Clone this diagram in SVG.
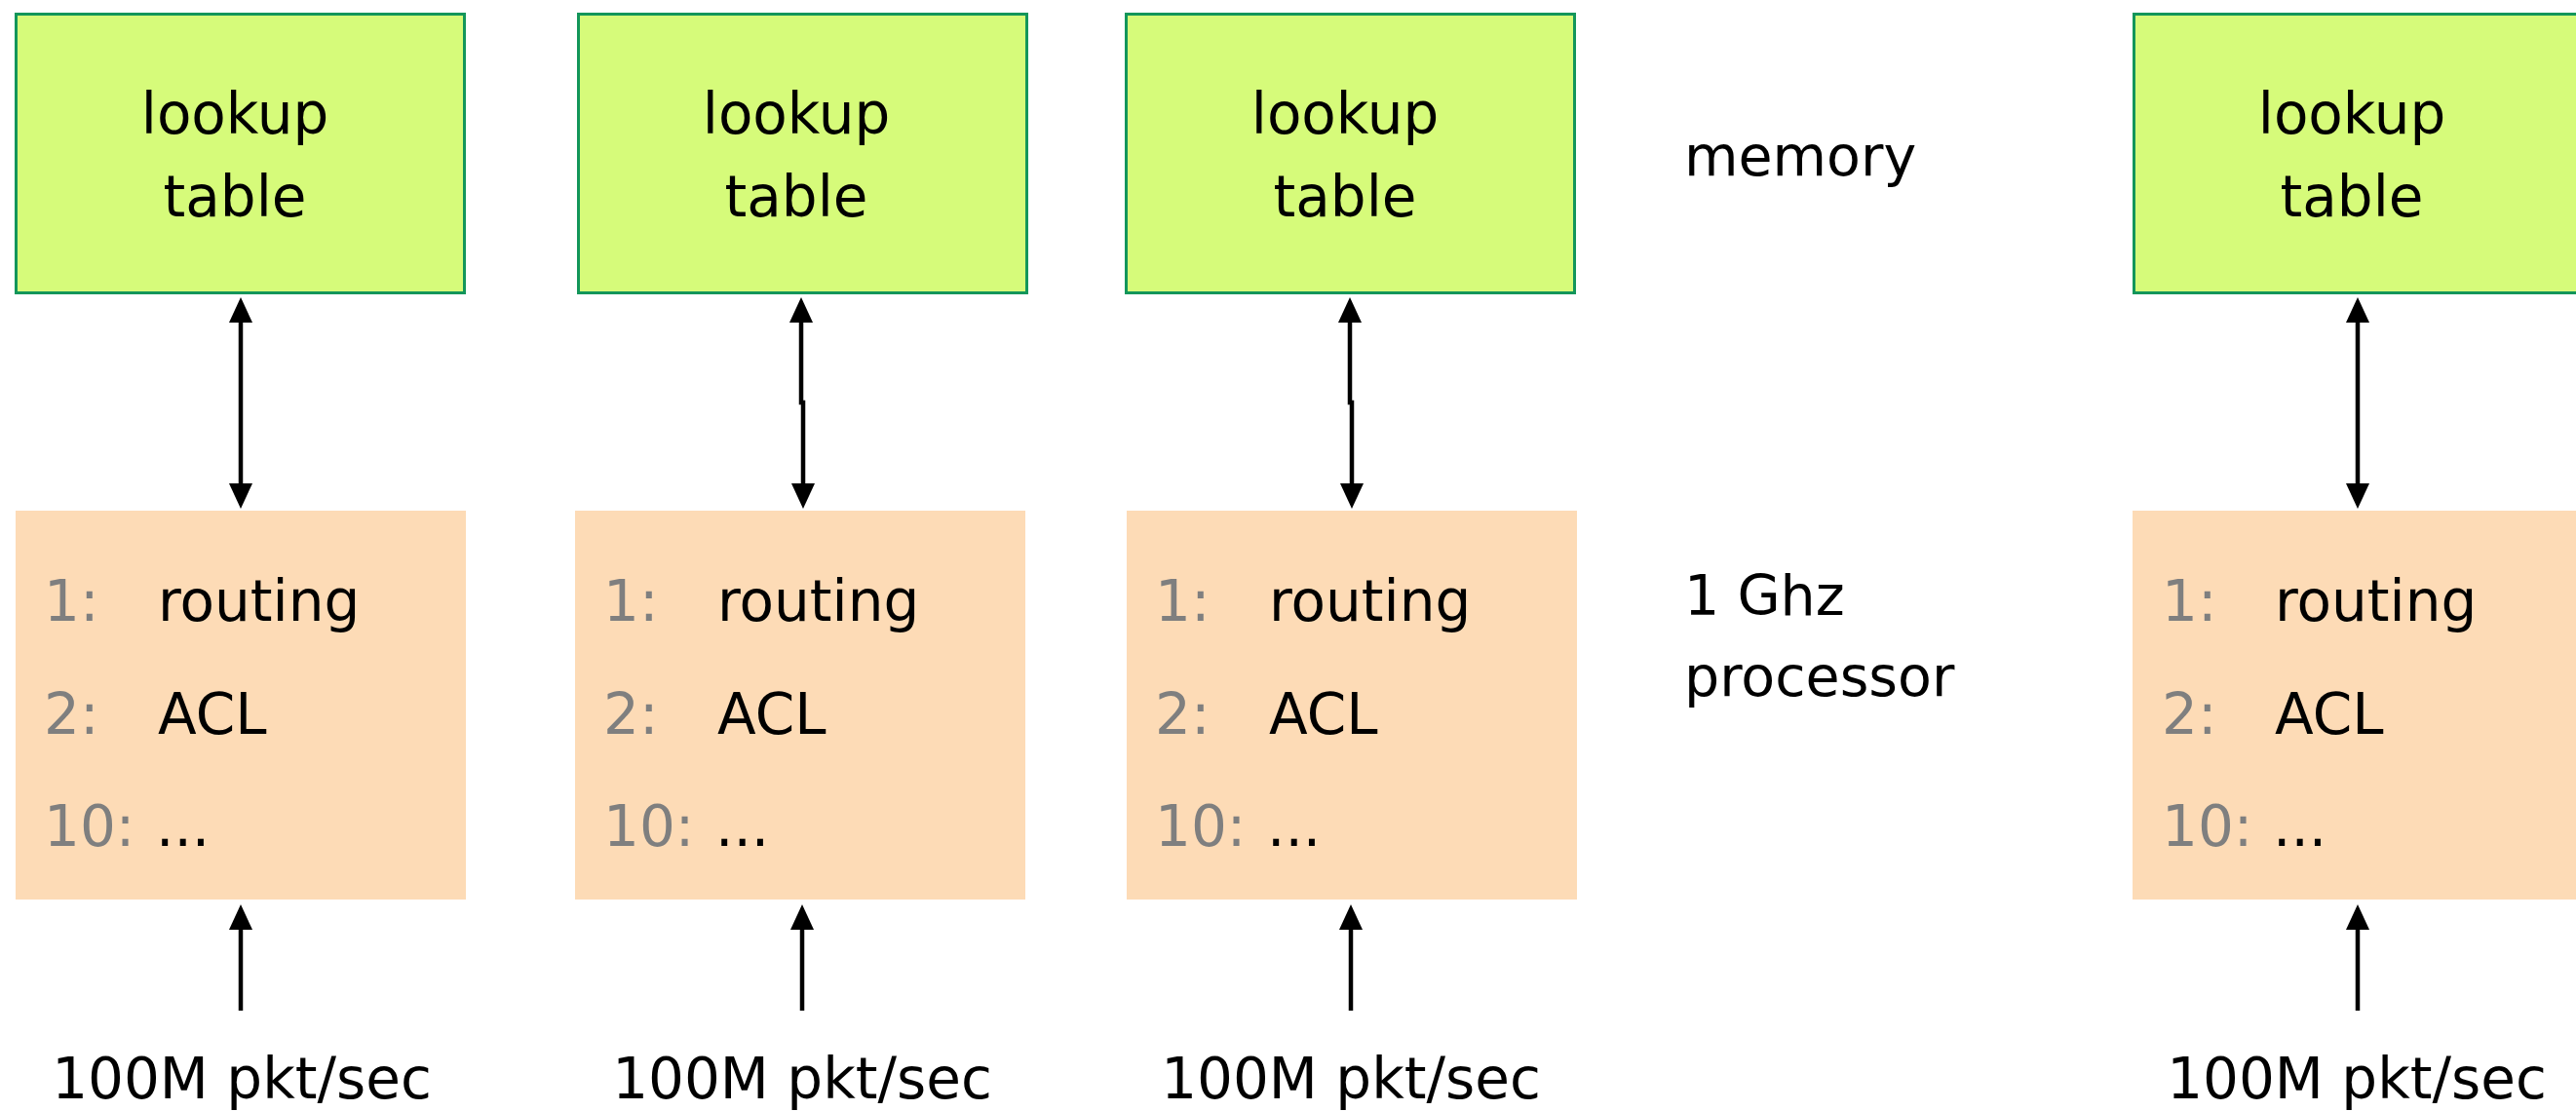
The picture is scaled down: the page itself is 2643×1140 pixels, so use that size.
<svg xmlns="http://www.w3.org/2000/svg" width="2643" height="1140" viewBox="0 0 2643 1140">
  <style>
    text { font-family: "DejaVu Sans", "Noto Sans", sans-serif; font-size: 58px; fill: #000; }
    .cap { font-size: 57px; }
    .mem { fill: #d6fb7a; stroke: #13965a; stroke-width: 3; }
    .cpu { fill: #fddbb6; stroke: none; }
    .mid { text-anchor: middle; }
    .num { fill: #7f7f7f; }
    .wire { fill: none; stroke: #000; stroke-width: 4.5; }
  </style>
  <defs>
    <marker id="head" viewBox="0 0 26 24" refX="16" refY="12" markerWidth="26" markerHeight="24" markerUnits="userSpaceOnUse" orient="auto-start-reverse">
      <path d="M0,0 L26,12 L0,24 Z" fill="#000"/>
    </marker>
  </defs>

  <rect width="2643" height="1140" fill="#fff"/>

  <!-- column 1 -->
  <g id="table1">
    <rect class="mem" x="16.5" y="14.5" width="460" height="286"/>
    <text class="mid" x="241" y="137">lookup</text>
    <text class="mid" x="241" y="222">table</text>
  </g>
  <g id="cpu1">
    <rect class="cpu" x="16" y="524" width="462" height="399"/>
    <text class="num" x="45" y="637">1:</text><text x="162" y="637">routing</text>
    <text class="num" x="45" y="753">2:</text><text x="162" y="753">ACL</text>
    <text class="num" x="45" y="868">10:</text><text x="160" y="868">...</text>
  </g>
  <g id="in1"><text class="mid" x="248" y="1127">100M pkt/sec</text></g>

  <!-- column 2 -->
  <g id="table2">
    <rect class="mem" x="593.5" y="14.5" width="460" height="286"/>
    <text class="mid" x="817" y="137">lookup</text>
    <text class="mid" x="817" y="222">table</text>
  </g>
  <g id="cpu2">
    <rect class="cpu" x="590" y="524" width="462" height="399"/>
    <text class="num" x="619" y="637">1:</text><text x="736" y="637">routing</text>
    <text class="num" x="619" y="753">2:</text><text x="736" y="753">ACL</text>
    <text class="num" x="619" y="868">10:</text><text x="734" y="868">...</text>
  </g>
  <g id="in2"><text class="mid" x="823" y="1127">100M pkt/sec</text></g>

  <!-- column 3 -->
  <g id="table3">
    <rect class="mem" x="1155.5" y="14.5" width="460" height="286"/>
    <text class="mid" x="1380" y="137">lookup</text>
    <text class="mid" x="1380" y="222">table</text>
  </g>
  <g id="cpu3">
    <rect class="cpu" x="1156" y="524" width="462" height="399"/>
    <text class="num" x="1185" y="637">1:</text><text x="1302" y="637">routing</text>
    <text class="num" x="1185" y="753">2:</text><text x="1302" y="753">ACL</text>
    <text class="num" x="1185" y="868">10:</text><text x="1300" y="868">...</text>
  </g>
  <g id="in3"><text class="mid" x="1386" y="1127">100M pkt/sec</text></g>

  <!-- row captions -->
  <g id="memory-label"><text class="cap" x="1728" y="180">memory</text></g>
  <g id="processor-label">
    <text class="cap" x="1728" y="631">1 Ghz</text>
    <text class="cap" x="1728" y="714">processor</text>
  </g>

  <!-- column 4 (runs past the right edge) -->
  <g id="table4">
    <rect class="mem" x="2189.5" y="14.5" width="460" height="286"/>
    <text class="mid" x="2413" y="137">lookup</text>
    <text class="mid" x="2413" y="222">table</text>
  </g>
  <g id="cpu4">
    <rect class="cpu" x="2188" y="524" width="462" height="399"/>
    <text class="num" x="2218" y="637">1:</text><text x="2334" y="637">routing</text>
    <text class="num" x="2218" y="753">2:</text><text x="2334" y="753">ACL</text>
    <text class="num" x="2218" y="868">10:</text><text x="2332" y="868">...</text>
  </g>
  <g id="in4"><text class="mid" x="2418" y="1127">100M pkt/sec</text></g>

  <!-- connectors -->
  <g id="connectors">
    <path class="wire" d="M247,315 V512" marker-start="url(#head)" marker-end="url(#head)"/>
    <path class="wire" d="M822,315 V413 H824 V512" marker-start="url(#head)" marker-end="url(#head)"/>
    <path class="wire" d="M1385,315 V413 H1387 V512" marker-start="url(#head)" marker-end="url(#head)"/>
    <path class="wire" d="M2419,315 V512" marker-start="url(#head)" marker-end="url(#head)"/>
    <path class="wire" d="M247,1037 V938" marker-end="url(#head)"/>
    <path class="wire" d="M823,1037 V938" marker-end="url(#head)"/>
    <path class="wire" d="M1386,1037 V938" marker-end="url(#head)"/>
    <path class="wire" d="M2419,1037 V938" marker-end="url(#head)"/>
  </g>
</svg>
